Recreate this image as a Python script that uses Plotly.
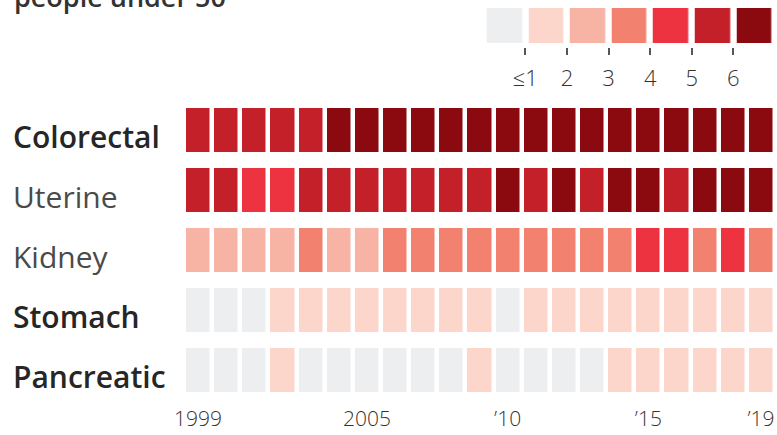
import plotly.graph_objects as go

# ---- data ----
years = list(range(1999, 2020))
cancers = ["Colorectal", "Uterine", "Kidney", "Stomach", "Pancreatic"]
bold_rows = [True, False, False, True, True]
colorectal = [5, 5, 5, 5, 5, 6, 6, 6, 6, 6, 6, 6, 6, 6, 6, 6, 6, 6, 6, 6, 6]
uterine    = [5, 5, 4, 4, 5, 5, 5, 5, 5, 5, 5, 6, 5, 6, 5, 6, 6, 5, 6, 6, 6]
kidney     = [2, 2, 2, 2, 3, 2, 2, 3, 3, 3, 3, 3, 3, 3, 3, 3, 4, 4, 3, 4, 3]
stomach    = [0, 0, 0, 1, 1, 1, 1, 1, 1, 1, 1, 0, 1, 1, 1, 1, 1, 1, 1, 1, 1]
pancreatic = [0, 0, 0, 1, 0, 0, 0, 0, 0, 0, 1, 0, 0, 0, 0, 1, 1, 1, 1, 1, 1]
x_tickvals = [1999, 2005, 2010, 2015, 2019]
x_ticktext = ["1999", "2005", "’10", "’15", "’19"]
legend_levels = [0, 1, 2, 3, 4, 5, 6]
legend_ticktext = ["≤1", "2", "3", "4", "5", "6"]
title_text = "people under 50"

colors = ["#ECEEF0", "#FCD6CA", "#F7B4A5", "#F2826F", "#EC333F", "#C4202A", "#8A0A10"]

# discrete colorscale
n = len(colors)
cscale = []
for i, c in enumerate(colors):
    cscale.append([i / n, c])
    cscale.append([(i + 1) / n, c])

Z = [colorectal, uterine, kidney, stomach, pancreatic]

W, H = 777, 435
ML, MR, MT, MB = 184, 2, 5, 35
PW, PH = W - ML - MR, H - MT - MB

def py(pix):  # page pixel y -> paper y
    return (H - MB - pix) / PH

def px(pix):
    return (pix - ML) / PW

fig = go.Figure()
fig.add_trace(go.Heatmap(
    z=Z, x=years, y=list(range(len(cancers))),
    colorscale=cscale, zmin=-0.5, zmax=n - 0.5,
    xgap=4.5, ygap=16, showscale=False, hoverinfo="skip",
    xaxis="x", yaxis="y",
))
fig.add_trace(go.Heatmap(
    z=[legend_levels], x=list(range(len(legend_levels))), y=[0],
    colorscale=cscale, zmin=-0.5, zmax=n - 0.5,
    xgap=6.5, ygap=0, showscale=False, hoverinfo="skip",
    xaxis="x2", yaxis="y2",
))

font_family = "Open Sans"
fig.update_layout(
    width=W, height=H,
    margin=dict(l=ML, r=MR, t=MT, b=MB, pad=0),
    paper_bgcolor="white", plot_bgcolor="white",
    showlegend=False,
    font=dict(family=font_family, color="#333"),
    xaxis=dict(range=[1998.5, 2019.5], tickvals=x_tickvals, ticktext=x_ticktext,
               showgrid=False, zeroline=False, showline=False, ticks="",
               tickfont=dict(size=21, color="#333", weight=300), ticklabelstandoff=4,
               domain=[0, 1], anchor="y"),
    yaxis=dict(range=[len(cancers) - 0.5, -0.5], showticklabels=False,
               showgrid=False, zeroline=False, domain=[0, py(100)], anchor="x"),
    xaxis2=dict(range=[-0.5, len(legend_levels) - 0.5],
                tickvals=[i + 0.5 for i in range(len(legend_ticktext))],
                ticktext=legend_ticktext, ticks="outside", ticklen=7, tickwidth=2,
                tickcolor="#555", showgrid=False, zeroline=False, showline=False,
                tickfont=dict(size=22, color="#333", weight=300), ticklabelstandoff=5,
                domain=[px(483.75), 1], anchor="y2"),
    yaxis2=dict(range=[-0.5 - 4 / 35, 0.5], showticklabels=False, showgrid=False,
                zeroline=False, domain=[py(47), py(8)], anchor="x2"),
)

for i, name in enumerate(cancers):
    b = bold_rows[i]
    fig.add_annotation(
        text=name,
        xref="paper", yref="y", x=px(11), y=i + 0.1,
        xanchor="left", yanchor="middle", showarrow=False,
        font=dict(size=30, color="#262626" if b else "#4a4a4a", family=font_family,
                  weight=600 if b else 400),
    )

fig.add_annotation(
    text=title_text, xref="paper", yref="paper",
    x=px(12), y=py(17), xanchor="left", yanchor="bottom", showarrow=False,
    font=dict(size=27, color="#333", family=font_family, weight=600),
)

fig.write_html("out.html", config={"displayModeBar": False},
               post_script="document.body.style.margin='0';document.body.style.overflow='hidden';")
